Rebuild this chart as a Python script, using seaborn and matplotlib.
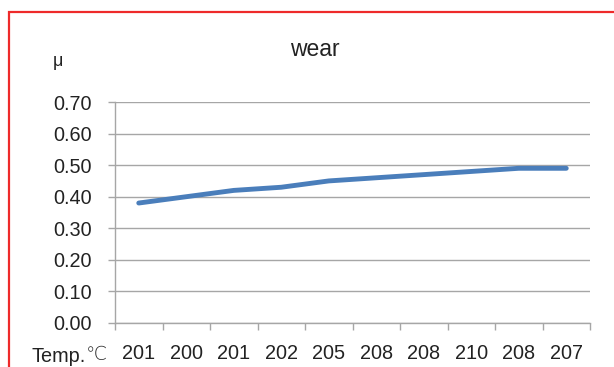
import numpy as np
import pandas as pd
import matplotlib
matplotlib.use("Agg")
import matplotlib.pyplot as plt
from matplotlib.patches import Rectangle
from matplotlib.ticker import FixedLocator
import seaborn as sns

# Data
temps = ["201", "200", "201", "202", "205", "208", "208", "210", "208", "207"]
mu = [0.38, 0.40, 0.42, 0.43, 0.45, 0.46, 0.47, 0.48, 0.49, 0.49]
y_ticks = [0.00, 0.10, 0.20, 0.30, 0.40, 0.50, 0.60, 0.70]

sns.set_theme(style="white")
plt.rcParams["font.family"] = ["Liberation Sans", "DejaVu Sans", "Noto Sans CJK SC"]

W, H = 614, 367
fig = plt.figure(figsize=(W / 100, H / 100), dpi=100)
fig.patch.set_facecolor("white")

left, right, bottom, top = 115, 590, 323, 102
ax = fig.add_axes([left / W, 1 - bottom / H, (right - left) / W, (bottom - top) / H])

df = pd.DataFrame({"pos": np.arange(len(temps)), "mu": mu})
sns.lineplot(data=df, x="pos", y="mu", ax=ax, color="#4a7ebb", linewidth=3.5,
             solid_capstyle="round", solid_joinstyle="round")

grid_c = "#a6a6a6"
text_c = "#222222"
fs = 14.3

ax.set_ylim(0, 0.70)
ax.set_xlim(-0.5, len(temps) - 0.5)
ax.yaxis.set_major_locator(FixedLocator(y_ticks))
ax.set_yticklabels([f"{v:.2f}" for v in y_ticks])
ax.yaxis.grid(True, color=grid_c, linewidth=1.0)
ax.xaxis.grid(False)

ax.set_xticks(np.arange(len(temps)))
ax.set_xticklabels(temps)
ax.xaxis.set_minor_locator(FixedLocator(np.arange(len(temps) + 1) - 0.5))
ax.tick_params(axis="x", which="major", length=0, pad=15, labelsize=fs, labelcolor=text_c)
ax.tick_params(axis="x", which="minor", length=5, width=1.0, color=grid_c, direction="out", bottom=True)
ax.tick_params(axis="y", which="major", length=5, width=1.0, color=grid_c, direction="out",
               left=True, pad=12, labelsize=fs, labelcolor=text_c)

for side in ["top", "right"]:
    ax.spines[side].set_visible(False)
for side in ["left", "bottom"]:
    ax.spines[side].set_color(grid_c)
    ax.spines[side].set_linewidth(1.0)

ax.set_xlabel("")
ax.set_ylabel("")

fig.text(315 / W, 1 - 49 / H, "wear", ha="center", va="center", fontsize=16.5, color=text_c)
fig.text(58 / W, 1 - 62 / H, "μ", ha="center", va="center", fontsize=13, color=text_c)
fig.text(31 / W, 1 - 356 / H, "Temp.", ha="left", va="center", fontsize=fs, color=text_c)
fig.text(86 / W, 1 - 355 / H, "℃", ha="left", va="center", fontsize=13.5,
         color="#2a2a2a", family=["DejaVu Sans"], fontweight=200)

# chart frame
fig.patches.append(Rectangle((8.5 / W, -0.2), 1.2, 1.2 - 11.5 / H,
                             transform=fig.transFigure, fill=False,
                             edgecolor="#ee2a2a", linewidth=1.6, zorder=10))

fig.savefig("out.png", dpi=100, facecolor="white")
